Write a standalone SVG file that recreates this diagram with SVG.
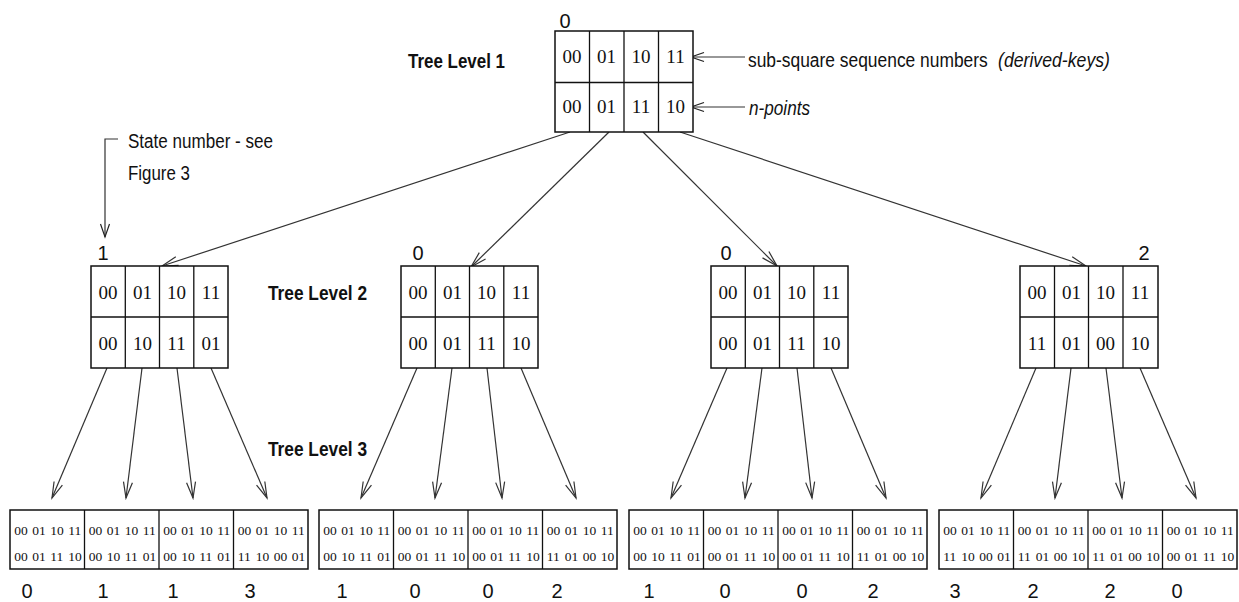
<svg xmlns="http://www.w3.org/2000/svg" width="1239" height="602" viewBox="0 0 1239 602">
<style>
.bg{fill:#fff}
.box{fill:#fff;stroke:#111;stroke-width:1.5}
.div{stroke:#111;stroke-width:1.3}
.con{stroke:#333;stroke-width:1.2;fill:none}
.lbl{font-family:"Liberation Sans Narrow","Liberation Sans",Arial,sans-serif;font-size:20px;fill:#111}
.b{font-weight:bold}
.it{font-style:italic}
.num{font-family:"Liberation Sans Narrow","Liberation Sans",Arial,sans-serif;font-size:20px;fill:#111;text-anchor:middle}
.cell{font-family:"Liberation Serif","Times New Roman",serif;font-size:19px;fill:#111;text-anchor:middle}
.mini{font-family:"Liberation Serif","Times New Roman",serif;font-size:13.5px;fill:#111}
</style>
<defs>
<marker id="arr" markerUnits="userSpaceOnUse" viewBox="-18 -7 20 14" markerWidth="20" markerHeight="14" refX="0" refY="0" orient="auto">
<path d="M-16,-4.5 L0,0 L-16,4.5" fill="none" stroke="#333" stroke-width="1.2"/>
</marker>
<marker id="arrs" markerUnits="userSpaceOnUse" viewBox="-18 -7 20 14" markerWidth="20" markerHeight="14" refX="0" refY="0" orient="auto">
<path d="M-13,-4.5 L0,0 L-13,4.5" fill="none" stroke="#222" stroke-width="1.2"/>
</marker>
</defs>
<rect class="bg" x="0" y="0" width="1239" height="602"/>

<g id="connectors">
<line class="con" x1="570" y1="132" x2="162" y2="266" marker-end="url(#arr)"/>
<line class="con" x1="609" y1="132" x2="471" y2="267" marker-end="url(#arr)"/>
<line class="con" x1="643" y1="132" x2="777" y2="266" marker-end="url(#arr)"/>
<line class="con" x1="680" y1="132" x2="1086" y2="266" marker-end="url(#arr)"/>

<line class="con" x1="107" y1="368" x2="52" y2="498" marker-end="url(#arr)"/>
<line class="con" x1="142" y1="368" x2="126" y2="498" marker-end="url(#arr)"/>
<line class="con" x1="177" y1="368" x2="193" y2="498" marker-end="url(#arr)"/>
<line class="con" x1="211" y1="368" x2="267" y2="498" marker-end="url(#arr)"/>

<line class="con" x1="417" y1="368" x2="361" y2="498" marker-end="url(#arr)"/>
<line class="con" x1="452" y1="368" x2="435" y2="498" marker-end="url(#arr)"/>
<line class="con" x1="487" y1="368" x2="502" y2="498" marker-end="url(#arr)"/>
<line class="con" x1="521" y1="368" x2="576" y2="498" marker-end="url(#arr)"/>

<line class="con" x1="727" y1="368" x2="671" y2="498" marker-end="url(#arr)"/>
<line class="con" x1="762" y1="368" x2="745" y2="498" marker-end="url(#arr)"/>
<line class="con" x1="797" y1="368" x2="812" y2="498" marker-end="url(#arr)"/>
<line class="con" x1="831" y1="368" x2="886" y2="498" marker-end="url(#arr)"/>

<line class="con" x1="1036" y1="368" x2="981" y2="498" marker-end="url(#arr)"/>
<line class="con" x1="1071" y1="368" x2="1055" y2="498" marker-end="url(#arr)"/>
<line class="con" x1="1106" y1="368" x2="1122" y2="498" marker-end="url(#arr)"/>
<line class="con" x1="1140" y1="368" x2="1196" y2="498" marker-end="url(#arr)"/>

<line class="con" x1="745" y1="57" x2="691" y2="57" marker-end="url(#arrs)"/>
<line class="con" x1="745" y1="107" x2="691" y2="107" marker-end="url(#arrs)"/>
<polyline class="con" points="118,139 105,139 105,237" marker-end="url(#arrs)"/>
</g>

<g id="labels">
<text class="lbl b" x="408" y="68" textLength="97" lengthAdjust="spacingAndGlyphs">Tree Level 1</text>
<text class="lbl b" x="268" y="300" textLength="99" lengthAdjust="spacingAndGlyphs">Tree Level 2</text>
<text class="lbl b" x="268" y="456" textLength="99" lengthAdjust="spacingAndGlyphs">Tree Level 3</text>
<text class="lbl" transform="translate(748,67) scale(0.87,1)" x="0" y="0">sub-square sequence numbers</text>
<text class="lbl it" x="998" y="67" textLength="112" lengthAdjust="spacingAndGlyphs">(derived-keys)</text>
<text class="lbl it" x="749" y="115" textLength="61" lengthAdjust="spacingAndGlyphs">n-points</text>
<text class="lbl" x="128" y="148" textLength="145" lengthAdjust="spacingAndGlyphs">State number - see</text>
<text class="lbl" x="128" y="180" textLength="62" lengthAdjust="spacingAndGlyphs">Figure 3</text>
</g>

<g id="node-root">
<text class="num" x="565" y="28">0</text>
<rect class="box" x="555" y="31" width="138" height="101"/>
<line class="div" x1="589.5" y1="31" x2="589.5" y2="132"/>
<line class="div" x1="624" y1="31" x2="624" y2="132"/>
<line class="div" x1="658.5" y1="31" x2="658.5" y2="132"/>
<line class="div" x1="555" y1="82.5" x2="693" y2="82.5"/>
<text class="cell" x="572" y="63">00</text>
<text class="cell" x="606.5" y="63">01</text>
<text class="cell" x="641" y="63">10</text>
<text class="cell" x="675.5" y="63">11</text>
<text class="cell" x="572" y="113">00</text>
<text class="cell" x="606.5" y="113">01</text>
<text class="cell" x="641" y="113">11</text>
<text class="cell" x="675.5" y="113">10</text>
</g>

<g id="node-l2-1">
<text class="num" x="103" y="260">1</text>
<rect class="box" x="91" y="266" width="137" height="102"/>
<line class="div" x1="125.3" y1="266" x2="125.3" y2="368"/>
<line class="div" x1="159.5" y1="266" x2="159.5" y2="368"/>
<line class="div" x1="193.8" y1="266" x2="193.8" y2="368"/>
<line class="div" x1="91" y1="317" x2="228" y2="317"/>
<text class="cell" x="108" y="299">00</text>
<text class="cell" x="142.5" y="299">01</text>
<text class="cell" x="176.5" y="299">10</text>
<text class="cell" x="211" y="299">11</text>
<text class="cell" x="108" y="350">00</text>
<text class="cell" x="142.5" y="350">10</text>
<text class="cell" x="176.5" y="350">11</text>
<text class="cell" x="211" y="350">01</text>
</g>

<g id="node-l2-2">
<text class="num" x="418" y="260">0</text>
<rect class="box" x="401" y="266" width="137" height="102"/>
<line class="div" x1="435.3" y1="266" x2="435.3" y2="368"/>
<line class="div" x1="469.5" y1="266" x2="469.5" y2="368"/>
<line class="div" x1="503.8" y1="266" x2="503.8" y2="368"/>
<line class="div" x1="401" y1="317" x2="538" y2="317"/>
<text class="cell" x="418" y="299">00</text>
<text class="cell" x="452.5" y="299">01</text>
<text class="cell" x="486.5" y="299">10</text>
<text class="cell" x="521" y="299">11</text>
<text class="cell" x="418" y="350">00</text>
<text class="cell" x="452.5" y="350">01</text>
<text class="cell" x="486.5" y="350">11</text>
<text class="cell" x="521" y="350">10</text>
</g>

<g id="node-l2-3">
<text class="num" x="726" y="260">0</text>
<rect class="box" x="711" y="266" width="137" height="102"/>
<line class="div" x1="745.3" y1="266" x2="745.3" y2="368"/>
<line class="div" x1="779.5" y1="266" x2="779.5" y2="368"/>
<line class="div" x1="813.8" y1="266" x2="813.8" y2="368"/>
<line class="div" x1="711" y1="317" x2="848" y2="317"/>
<text class="cell" x="728" y="299">00</text>
<text class="cell" x="762.5" y="299">01</text>
<text class="cell" x="796.5" y="299">10</text>
<text class="cell" x="831" y="299">11</text>
<text class="cell" x="728" y="350">00</text>
<text class="cell" x="762.5" y="350">01</text>
<text class="cell" x="796.5" y="350">11</text>
<text class="cell" x="831" y="350">10</text>
</g>

<g id="node-l2-4">
<text class="num" x="1144" y="260">2</text>
<rect class="box" x="1020" y="266" width="138" height="102"/>
<line class="div" x1="1054.5" y1="266" x2="1054.5" y2="368"/>
<line class="div" x1="1088.5" y1="266" x2="1088.5" y2="368"/>
<line class="div" x1="1123" y1="266" x2="1123" y2="368"/>
<line class="div" x1="1020" y1="317" x2="1158" y2="317"/>
<text class="cell" x="1037" y="299">00</text>
<text class="cell" x="1071.5" y="299">01</text>
<text class="cell" x="1105.5" y="299">10</text>
<text class="cell" x="1140" y="299">11</text>
<text class="cell" x="1037" y="350">11</text>
<text class="cell" x="1071.5" y="350">01</text>
<text class="cell" x="1105.5" y="350">00</text>
<text class="cell" x="1140" y="350">10</text>
</g>

<g id="node-l3-1">
<rect class="box" x="10" y="510" width="298" height="59"/>
<line class="div" x1="84.5" y1="510" x2="84.5" y2="569"/>
<line class="div" x1="159" y1="510" x2="159" y2="569"/>
<line class="div" x1="233.5" y1="510" x2="233.5" y2="569"/>
<text class="mini" y="535"><tspan x="14.25">00</tspan> <tspan x="32.25">01</tspan> <tspan x="50.25">10</tspan> <tspan x="68.25">11</tspan></text>
<text class="mini" y="535"><tspan x="88.75">00</tspan> <tspan x="106.75">01</tspan> <tspan x="124.75">10</tspan> <tspan x="142.75">11</tspan></text>
<text class="mini" y="535"><tspan x="163.25">00</tspan> <tspan x="181.25">01</tspan> <tspan x="199.25">10</tspan> <tspan x="217.25">11</tspan></text>
<text class="mini" y="535"><tspan x="237.75">00</tspan> <tspan x="255.75">01</tspan> <tspan x="273.75">10</tspan> <tspan x="291.75">11</tspan></text>
<text class="mini" y="561"><tspan x="14.25">00</tspan> <tspan x="32.25">01</tspan> <tspan x="50.25">11</tspan> <tspan x="68.25">10</tspan></text>
<text class="mini" y="561"><tspan x="88.75">00</tspan> <tspan x="106.75">10</tspan> <tspan x="124.75">11</tspan> <tspan x="142.75">01</tspan></text>
<text class="mini" y="561"><tspan x="163.25">00</tspan> <tspan x="181.25">10</tspan> <tspan x="199.25">11</tspan> <tspan x="217.25">01</tspan></text>
<text class="mini" y="561"><tspan x="237.75">11</tspan> <tspan x="255.75">10</tspan> <tspan x="273.75">00</tspan> <tspan x="291.75">01</tspan></text>
<text class="num" x="27" y="598">0</text>
<text class="num" x="103" y="598">1</text>
<text class="num" x="173" y="598">1</text>
<text class="num" x="250" y="598">3</text>
</g>

<g id="node-l3-2">
<rect class="box" x="319" y="510" width="298" height="59"/>
<line class="div" x1="393.5" y1="510" x2="393.5" y2="569"/>
<line class="div" x1="468" y1="510" x2="468" y2="569"/>
<line class="div" x1="542.5" y1="510" x2="542.5" y2="569"/>
<text class="mini" y="535"><tspan x="323.25">00</tspan> <tspan x="341.25">01</tspan> <tspan x="359.25">10</tspan> <tspan x="377.25">11</tspan></text>
<text class="mini" y="535"><tspan x="397.75">00</tspan> <tspan x="415.75">01</tspan> <tspan x="433.75">10</tspan> <tspan x="451.75">11</tspan></text>
<text class="mini" y="535"><tspan x="472.25">00</tspan> <tspan x="490.25">01</tspan> <tspan x="508.25">10</tspan> <tspan x="526.25">11</tspan></text>
<text class="mini" y="535"><tspan x="546.75">00</tspan> <tspan x="564.75">01</tspan> <tspan x="582.75">10</tspan> <tspan x="600.75">11</tspan></text>
<text class="mini" y="561"><tspan x="323.25">00</tspan> <tspan x="341.25">10</tspan> <tspan x="359.25">11</tspan> <tspan x="377.25">01</tspan></text>
<text class="mini" y="561"><tspan x="397.75">00</tspan> <tspan x="415.75">01</tspan> <tspan x="433.75">11</tspan> <tspan x="451.75">10</tspan></text>
<text class="mini" y="561"><tspan x="472.25">00</tspan> <tspan x="490.25">01</tspan> <tspan x="508.25">11</tspan> <tspan x="526.25">10</tspan></text>
<text class="mini" y="561"><tspan x="546.75">11</tspan> <tspan x="564.75">01</tspan> <tspan x="582.75">00</tspan> <tspan x="600.75">10</tspan></text>
<text class="num" x="342" y="598">1</text>
<text class="num" x="415" y="598">0</text>
<text class="num" x="488" y="598">0</text>
<text class="num" x="557" y="598">2</text>
</g>

<g id="node-l3-3">
<rect class="box" x="629" y="510" width="298" height="59"/>
<line class="div" x1="703.5" y1="510" x2="703.5" y2="569"/>
<line class="div" x1="778" y1="510" x2="778" y2="569"/>
<line class="div" x1="852.5" y1="510" x2="852.5" y2="569"/>
<text class="mini" y="535"><tspan x="633.25">00</tspan> <tspan x="651.25">01</tspan> <tspan x="669.25">10</tspan> <tspan x="687.25">11</tspan></text>
<text class="mini" y="535"><tspan x="707.75">00</tspan> <tspan x="725.75">01</tspan> <tspan x="743.75">10</tspan> <tspan x="761.75">11</tspan></text>
<text class="mini" y="535"><tspan x="782.25">00</tspan> <tspan x="800.25">01</tspan> <tspan x="818.25">10</tspan> <tspan x="836.25">11</tspan></text>
<text class="mini" y="535"><tspan x="856.75">00</tspan> <tspan x="874.75">01</tspan> <tspan x="892.75">10</tspan> <tspan x="910.75">11</tspan></text>
<text class="mini" y="561"><tspan x="633.25">00</tspan> <tspan x="651.25">10</tspan> <tspan x="669.25">11</tspan> <tspan x="687.25">01</tspan></text>
<text class="mini" y="561"><tspan x="707.75">00</tspan> <tspan x="725.75">01</tspan> <tspan x="743.75">11</tspan> <tspan x="761.75">10</tspan></text>
<text class="mini" y="561"><tspan x="782.25">00</tspan> <tspan x="800.25">01</tspan> <tspan x="818.25">11</tspan> <tspan x="836.25">10</tspan></text>
<text class="mini" y="561"><tspan x="856.75">11</tspan> <tspan x="874.75">01</tspan> <tspan x="892.75">00</tspan> <tspan x="910.75">10</tspan></text>
<text class="num" x="649" y="598">1</text>
<text class="num" x="725" y="598">0</text>
<text class="num" x="802" y="598">0</text>
<text class="num" x="873" y="598">2</text>
</g>

<g id="node-l3-4">
<rect class="box" x="939" y="510" width="298" height="59"/>
<line class="div" x1="1013.5" y1="510" x2="1013.5" y2="569"/>
<line class="div" x1="1088" y1="510" x2="1088" y2="569"/>
<line class="div" x1="1162.5" y1="510" x2="1162.5" y2="569"/>
<text class="mini" y="535"><tspan x="943.25">00</tspan> <tspan x="961.25">01</tspan> <tspan x="979.25">10</tspan> <tspan x="997.25">11</tspan></text>
<text class="mini" y="535"><tspan x="1017.75">00</tspan> <tspan x="1035.75">01</tspan> <tspan x="1053.75">10</tspan> <tspan x="1071.75">11</tspan></text>
<text class="mini" y="535"><tspan x="1092.25">00</tspan> <tspan x="1110.25">01</tspan> <tspan x="1128.25">10</tspan> <tspan x="1146.25">11</tspan></text>
<text class="mini" y="535"><tspan x="1166.75">00</tspan> <tspan x="1184.75">01</tspan> <tspan x="1202.75">10</tspan> <tspan x="1220.75">11</tspan></text>
<text class="mini" y="561"><tspan x="943.25">11</tspan> <tspan x="961.25">10</tspan> <tspan x="979.25">00</tspan> <tspan x="997.25">01</tspan></text>
<text class="mini" y="561"><tspan x="1017.75">11</tspan> <tspan x="1035.75">01</tspan> <tspan x="1053.75">00</tspan> <tspan x="1071.75">10</tspan></text>
<text class="mini" y="561"><tspan x="1092.25">11</tspan> <tspan x="1110.25">01</tspan> <tspan x="1128.25">00</tspan> <tspan x="1146.25">10</tspan></text>
<text class="mini" y="561"><tspan x="1166.75">00</tspan> <tspan x="1184.75">01</tspan> <tspan x="1202.75">11</tspan> <tspan x="1220.75">10</tspan></text>
<text class="num" x="955" y="598">3</text>
<text class="num" x="1033" y="598">2</text>
<text class="num" x="1110" y="598">2</text>
<text class="num" x="1177" y="598">0</text>
</g>
</svg>
